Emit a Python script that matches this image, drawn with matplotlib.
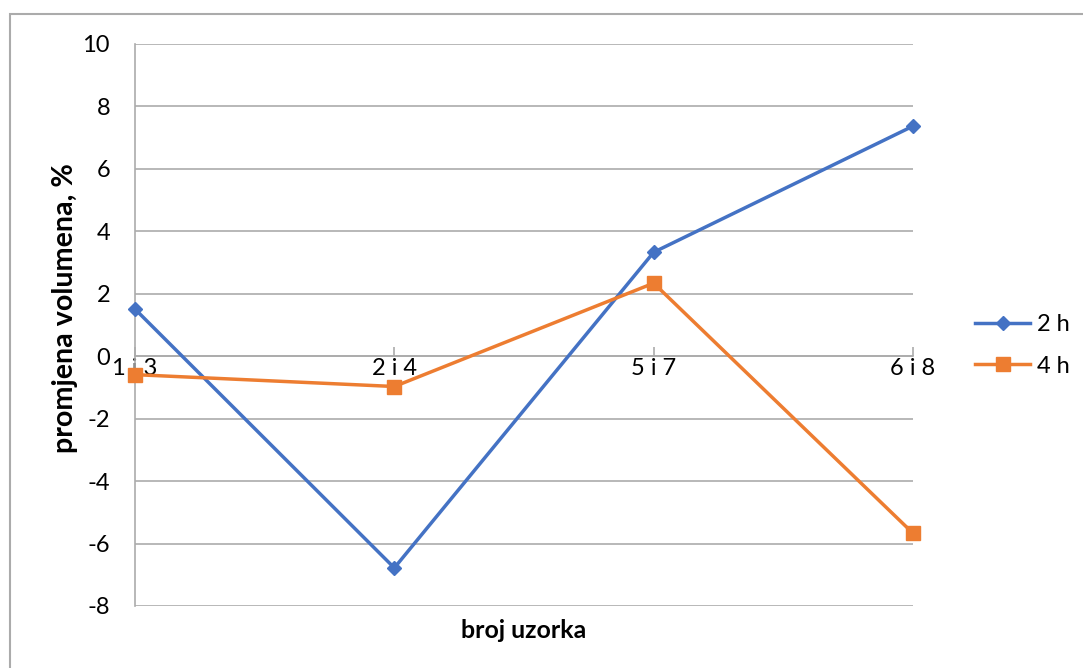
import matplotlib.pyplot as plt
from matplotlib.patches import Rectangle

categories = ['1 i 3', '2 i 4', '5 i 7', '6 i 8']
vals_2h = [1.51, -6.78, 3.33, 7.37]
vals_4h = [-0.59, -0.97, 2.34, -5.67]
yticks = [-8, -6, -4, -2, 0, 2, 4, 6, 8, 10]

plt.rcParams['font.family'] = ['Lato', 'DejaVu Sans']
grey = '#ABABAB'
W, H = 1083, 668

fig = plt.figure(figsize=(W / 100, H / 100), dpi=100)
ax = fig.add_axes([135 / W, 1 - 606 / H, (913 - 135) / W, (606 - 44) / H])

x = range(len(categories))
ax.plot(x, vals_2h, '-D', color='#4472C4', lw=2.5, ms=7.5, label='2 h', clip_on=False, zorder=3)
ax.plot(x, vals_4h, '-s', color='#ED7D31', lw=2.5, ms=10, label='4 h', clip_on=False, zorder=3)

ax.set_xlim(0, 3)
ax.set_ylim(-8, 10)
ax.set_yticks(yticks)
ax.set_yticklabels([str(v) for v in yticks])
ax.set_xticks(list(x))
ax.set_xticklabels(categories)

ax.grid(axis='y', color=grey, lw=1.2)
ax.set_axisbelow(True)
for s in ['top', 'right']:
    ax.spines[s].set_visible(False)
ax.spines['left'].set_color(grey)
ax.spines['left'].set_linewidth(1.2)
ax.spines['bottom'].set_position(('data', 0))
ax.spines['bottom'].set_color(grey)
ax.spines['bottom'].set_linewidth(1.2)

ax.tick_params(axis='y', length=0, pad=18, labelsize=17)
ax.tick_params(axis='x', direction='in', length=6.5, color=grey, width=1.2, pad=1, labelsize=17)

xl = fig.text(524 / W, 1 - 631 / H, 'broj uzorka', ha='center', va='center',
              fontsize=17.5, fontweight='bold')
yl = fig.text(65 / W, 1 - 308 / H, 'promjena volumena, %', ha='center', va='center',
              rotation=90, fontsize=16.5, fontweight='bold')

# scale the axis titles so their length matches the reference
r = fig.canvas.get_renderer()
xl.set_fontsize(xl.get_fontsize() * 125 / xl.get_window_extent(r).width)
yl.set_fontsize(yl.get_fontsize() * 288 / yl.get_window_extent(r).height)

ax.legend(loc='center left', bbox_to_anchor=(975 / W, 1 - 345.5 / H),
          bbox_transform=fig.transFigure, frameon=False, fontsize=17,
          handlelength=2.33, handletextpad=0.3, labelspacing=0.85, borderpad=0,
          borderaxespad=0)

fig.patches.append(Rectangle((10 / W, -0.1), 1.2, 1 - 14 / H + 0.1,
                             transform=fig.transFigure, fill=False,
                             edgecolor=grey, lw=1.5))

fig.savefig('out.png', dpi=100)
